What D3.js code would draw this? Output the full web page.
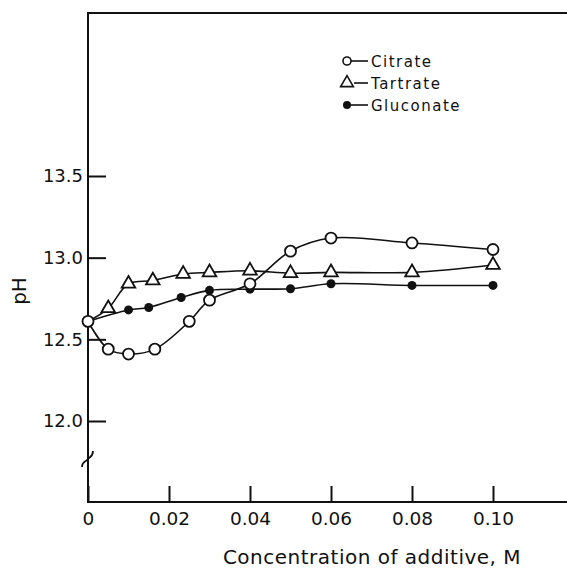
<!DOCTYPE html>
<html>
<head>
<meta charset="utf-8">
<script src="https://cdn.jsdelivr.net/npm/d3@7"></script>
<style>
  body { margin: 0; background: #fff; }
  svg text { font-family: "DejaVu Sans", sans-serif; fill: #111; }
</style>
</head>
<body>
<div id="graph1"></div>
<script>
// data
const citrateX = [0, 0.005, 0.01, 0.0165, 0.025, 0.03, 0.04, 0.05, 0.06, 0.08, 0.10];
const citratePH = [12.61, 12.44, 12.41, 12.44, 12.61, 12.74, 12.84, 13.04, 13.12, 13.09, 13.05];

const tartrateX = [0, 0.005, 0.01, 0.016, 0.0235, 0.03, 0.04, 0.05, 0.06, 0.08, 0.10];
const tartratePH = [12.61, 12.69, 12.84, 12.86, 12.90, 12.91, 12.92, 12.905, 12.91, 12.91, 12.955];

const gluconateX = [0, 0.01, 0.015, 0.023, 0.03, 0.04, 0.05, 0.06, 0.08, 0.10];
const gluconatePH = [12.61, 12.68, 12.695, 12.756, 12.80, 12.807, 12.81, 12.84, 12.83, 12.83];

const xTicks = [0, 0.02, 0.04, 0.06, 0.08, 0.10];
const xTickLabels = ["0", "0.02", "0.04", "0.06", "0.08", "0.10"];
const yTicks = [12.0, 12.5, 13.0, 13.5];
const yTickLabels = ["12.0", "12.5", "13.0", "13.5"];
const seriesNames = ["Citrate", "Tartrate", "Gluconate"];

const width = 567, height = 569;
const margin = {top: 13, right: 0, bottom: 67, left: 88};

let svg = d3.select("#graph1")
    .append("svg")
    .attr("width", width)
    .attr("height", height);

let x = d3.scaleLinear()
    .domain([0, 0.10])
    .range([margin.left, 493]);

let y = d3.scaleLinear()
    .domain([12.0, 13.5])
    .range([421, 176]);

const axisY = height - margin.bottom;

// frame: left axis, bottom axis, top line
svg.append("path")
    .attr("d", `M${width},${margin.top}H${margin.left}V${axisY}H${width}`)
    .attr("fill", "none")
    .attr("stroke", "#111")
    .attr("stroke-width", 2);

// axis break on the y axis
svg.append("path")
    .attr("d", "M82,467 C82,461 86,462 88,459 C90,456 93,457 93,451")
    .attr("fill", "none")
    .attr("stroke", "#111")
    .attr("stroke-width", 1.8);

// y axis ticks (pointing inwards)
let yAxis = svg.append("g")
    .attr("transform", `translate(${margin.left},0)`)
    .call(d3.axisLeft(y).tickValues(yTicks).tickSize(-18).tickPadding(5)
        .tickFormat((d, i) => yTickLabels[i]));
yAxis.select(".domain").remove();
yAxis.selectAll("line").attr("stroke", "#111").attr("stroke-width", 2);
yAxis.selectAll("text").style("font-size", "18px").attr("fill", "#111");

// x axis ticks
let xAxis = svg.append("g")
    .attr("transform", `translate(0,${axisY})`)
    .call(d3.axisBottom(x).tickValues(xTicks).tickSize(-16).tickPadding(10)
        .tickFormat((d, i) => xTickLabels[i]));
xAxis.select(".domain").remove();
xAxis.selectAll("line").attr("stroke", "#111").attr("stroke-width", 2);
xAxis.selectAll("text").style("font-size", "18.5px").attr("fill", "#111");

// axis titles
svg.append("text")
    .attr("x", 372)
    .attr("y", 564)
    .style("text-anchor", "middle")
    .style("font-size", "20px")
    .style("letter-spacing", "0.5px")
    .text("Concentration of additive, M");

svg.append("text")
    .attr("transform", `translate(26,291) rotate(-90)`)
    .style("text-anchor", "middle")
    .style("font-size", "20px")
    .text("pH");

let line = d3.line()
    .x(d => x(d[0]))
    .y(d => y(d[1]))
    .curve(d3.curveCatmullRom.alpha(0.5));

const citrate = citrateX.map((d, i) => [d, citratePH[i]]);
const tartrate = tartrateX.map((d, i) => [d, tartratePH[i]]);
const gluconate = gluconateX.map((d, i) => [d, gluconatePH[i]]);

[citrate, tartrate, gluconate].forEach(s => {
    svg.append("path")
        .datum(s)
        .attr("fill", "none")
        .attr("stroke", "#111")
        .attr("stroke-width", 1.6)
        .attr("d", line);
});

// markers (the shared start point is drawn once, as an open circle)
svg.append("g").selectAll("path")
    .data(tartrate.slice(1))
    .enter().append("path")
    .attr("transform", d => `translate(${x(d[0])},${y(d[1])})`)
    .attr("d", d3.symbol().type(d3.symbolTriangle).size(80))
    .attr("fill", "#fff")
    .attr("stroke", "#111")
    .attr("stroke-width", 1.8);

svg.append("g").selectAll("circle")
    .data(gluconate.slice(1))
    .enter().append("circle")
    .attr("cx", d => x(d[0]))
    .attr("cy", d => y(d[1]))
    .attr("r", 4.5)
    .attr("fill", "#111");

svg.append("g").selectAll("circle")
    .data(citrate)
    .enter().append("circle")
    .attr("cx", d => x(d[0]))
    .attr("cy", d => y(d[1]))
    .attr("r", 5.5)
    .attr("fill", "#fff")
    .attr("stroke", "#111")
    .attr("stroke-width", 1.8);

// legend
let legend = svg.append("g").attr("transform", "translate(347,61)");
seriesNames.forEach((name, i) => {
    let row = legend.append("g").attr("transform", `translate(0,${i * 22})`);
    row.append("line")
        .attr("x1", i == 1 ? 7 : 4).attr("x2", 21)
        .attr("y1", 0).attr("y2", 0)
        .attr("stroke", "#111").attr("stroke-width", 1.6);
    if (i == 0) {
        row.append("circle").attr("r", 4).attr("fill", "#fff")
            .attr("stroke", "#111").attr("stroke-width", 1.6);
    } else if (i == 1) {
        row.append("path")
            .attr("d", d3.symbol().type(d3.symbolTriangle).size(70))
            .attr("fill", "#fff").attr("stroke", "#111").attr("stroke-width", 1.6);
    } else {
        row.append("circle").attr("r", 4).attr("fill", "#111");
    }
    row.append("text")
        .attr("x", 24)
        .attr("y", 5.5)
        .style("font-size", "15px")
        .style("letter-spacing", "1.5px")
        .text(name);
});
</script>
</body>
</html>
